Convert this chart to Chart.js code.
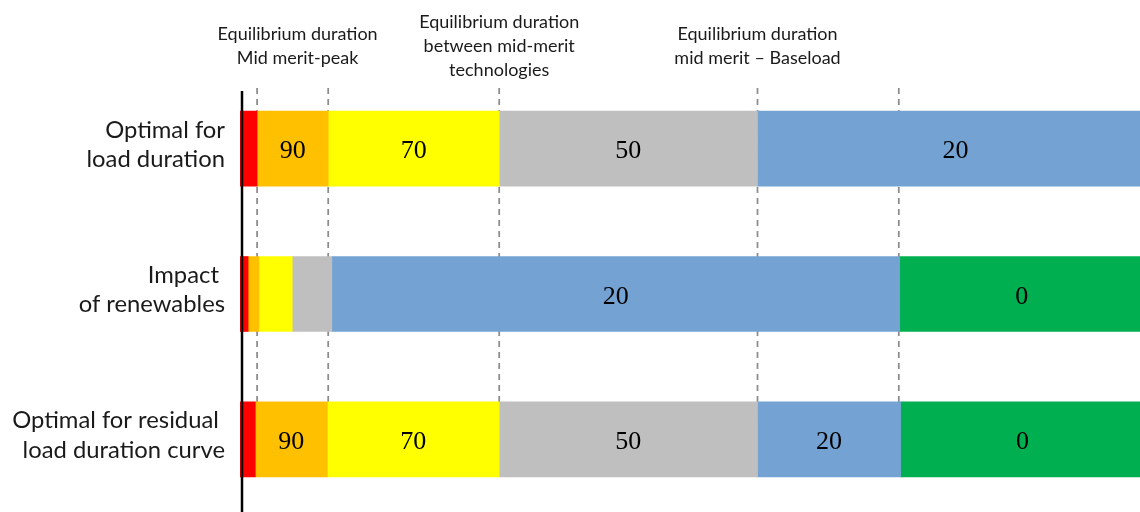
<!DOCTYPE html>
<html>
<head>
<meta charset="utf-8">
<script src="https://cdn.jsdelivr.net/npm/chart.js@4.4.1/dist/chart.umd.min.js"></script>
<style>
  html, body { margin: 0; padding: 0; background: #ffffff; }
  #wrap { width: 1140px; height: 512px; position: relative; }
</style>
</head>
<body>
<div id="wrap"><canvas id="merit"></canvas></div>
<script>
// Rows of the chart (multi-line category labels)
const rowLabels = [
  ['Optimal for', 'load duration'],
  ['Impact ', 'of renewables'],
  ['Optimal for residual ', 'load duration curve']
];

// Technologies, stacked left to right; the tag is the number printed inside each segment
const technologies = ['Peak', 'Mid merit 90', 'Mid merit 70', 'Mid merit 50', 'Baseload 20', 'Renewables 0'];
const segmentTags  = ['', '90', '70', '50', '20', '0'];

// Share of the duration axis (%) covered by each technology, per row
const peak     = [1.9, 0.9, 1.7];
const mid90    = [7.9, 1.2, 8.0];
const mid70    = [19.0, 3.7, 19.1];
const mid50    = [28.7, 4.4, 28.7];
const base20   = [44.0, 63.1, 15.9];
const renew0   = [0, 27.1, 27.1];

// Equilibrium durations marked with dashed lines (% of the duration axis)
const equilibriumDurations = [1.9, 9.8, 28.8, 57.5, 73.2];

// Header notes and the duration they sit over
const headerTexts = [
  ['Equilibrium duration', 'Mid merit-peak'],
  ['Equilibrium duration', 'between mid-merit', 'technologies'],
  ['Equilibrium duration', 'mid merit \u2013 Baseload']
];
const headerAnchors = [6.4, 28.8, 57.5];

const seriesValues = [peak, mid90, mid70, mid50, base20, renew0];
const seriesColors = ['#FF0000', '#FFC000', '#FFFF00', '#BFBFBF', '#73A2D3', '#00B050'];

// Dashed equilibrium lines behind the bars, black value axis and header notes
const guides = {
  id: 'guides',
  beforeDatasetsDraw(chart) {
    const { ctx, chartArea, scales: { x, y } } = chart;
    const top = chartArea.top + 12;
    const bottom = y.getPixelForValue(2);
    ctx.save();
    ctx.strokeStyle = '#8c8c8c';
    ctx.lineWidth = 1.75;
    ctx.setLineDash([6, 5]);
    equilibriumDurations.forEach(v => {
      const px = x.getPixelForValue(v);
      ctx.beginPath();
      ctx.moveTo(px, top);
      ctx.lineTo(px, bottom);
      ctx.stroke();
    });
    ctx.restore();
  },
  afterDatasetsDraw(chart) {
    const { ctx, chartArea, scales: { x } } = chart;
    ctx.save();
    // value axis line
    ctx.strokeStyle = '#000000';
    ctx.lineWidth = 2.5;
    ctx.beginPath();
    ctx.moveTo(chartArea.left + 2, chartArea.top + 15);
    ctx.lineTo(chartArea.left + 2, chartArea.bottom);
    ctx.stroke();

    // segment tags
    ctx.fillStyle = '#000000';
    ctx.font = '26px "Liberation Serif"';
    ctx.textAlign = 'center';
    ctx.textBaseline = 'middle';
    chart.data.datasets.forEach((ds, i) => {
      const meta = chart.getDatasetMeta(i);
      const tag = segmentTags[i];
      if (!tag) return;
      meta.data.forEach(bar => {
        const w = Math.abs(bar.x - bar.base);
        if (w < 50) return;
        ctx.fillText(tag, (bar.x + bar.base) / 2, bar.y + 3);
      });
    });

    // header notes
    ctx.fillStyle = '#1a1a1a';
    ctx.font = '18px Lato';
    ctx.textBaseline = 'alphabetic';
    const lineGap = 24;
    const mid = chartArea.top - 24;
    headerTexts.forEach((lines, k) => {
      const cx = x.getPixelForValue(headerAnchors[k]);
      const first = mid - (lines.length - 1) * lineGap / 2;
      lines.forEach((t, j) => ctx.fillText(t, cx, first + j * lineGap));
    });
    ctx.restore();
  }
};

new Chart(document.getElementById('merit'), {
  type: 'bar',
  data: {
    labels: rowLabels,
    datasets: technologies.map((name, i) => ({
      label: name,
      data: seriesValues[i],
      backgroundColor: seriesColors[i],
      borderWidth: 0,
      barThickness: 75
    }))
  },
  options: {
    indexAxis: 'y',
    responsive: true,
    maintainAspectRatio: false,
    animation: false,
    layout: { padding: { top: 76, left: 0, right: 0, bottom: 0 } },
    plugins: { legend: { display: false }, tooltip: { enabled: false } },
    scales: {
      x: { stacked: true, min: 0, max: 100, display: false },
      y: {
        stacked: true,
        grid: { display: false, drawTicks: false },
        border: { display: false },
        ticks: {
          color: '#1a1a1a',
          padding: 15,
          labelOffset: -4,
          crossAlign: 'near',
          font: { family: 'Lato', size: 23.8, lineHeight: 1.22 }
        },
        afterFit(scale) {
          scale.width = 240;
          scale.paddingTop = 0;
          scale.paddingBottom = 0;
        }
      }
    }
  },
  plugins: [guides]
});
</script>
</body>
</html>
